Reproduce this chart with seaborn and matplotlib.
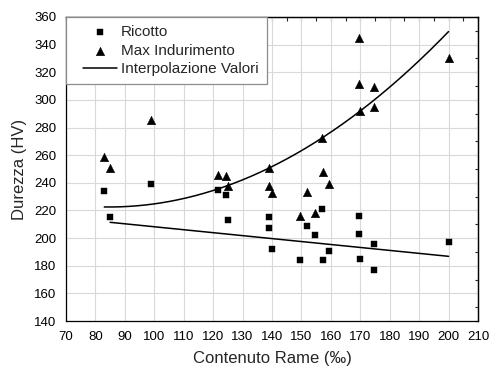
import numpy as np
import pandas as pd
import matplotlib
matplotlib.use("Agg")
import matplotlib.pyplot as plt
import seaborn as sns
from matplotlib.lines import Line2D
from matplotlib.collections import PathCollection
from matplotlib.legend_handler import HandlerLine2D, HandlerPathCollection
from matplotlib.ticker import MultipleLocator

# Copper content (per mille) and Vickers hardness
rame_ricotto = [83, 85, 99, 121.5, 124.5, 125, 139, 139, 140, 149.5, 152, 154.5,
                157, 157.5, 159.5, 169.5, 169.5, 170, 174.5, 174.5, 200]
hv_ricotto = [234, 215, 239, 235, 231, 213, 215, 207, 192, 184, 209, 202,
              221, 184, 191, 216, 203, 185, 196, 177, 197]

rame_max = [83, 85, 99, 121.5, 124.5, 125, 139, 139, 140, 149.5, 152, 154.5,
            157, 157.5, 159.5, 169.5, 169.5, 170, 174.5, 174.5, 200]
hv_max = [258.5, 250.5, 285.5, 245.5, 245, 237.5, 250.5, 237.5, 232.5, 216, 233, 218,
          272.5, 247.5, 239.5, 344.5, 311.5, 292, 309.5, 295, 330.5]

# Interpolating polynomials (highest power first) and their x ranges
coef_max = [0.009537, -1.614, 290.79]
range_max = (83, 200)
coef_ricotto = [-0.214, 229.6]
range_ricotto = (85, 200)

serie_labels = ["Ricotto", "Max Indurimento", "Interpolazione Valori"]

sns.set_style("white")
plt.rcParams["font.family"] = ["Liberation Sans", "DejaVu Sans"]

df = pd.DataFrame({
    "rame": rame_ricotto + rame_max,
    "durezza": hv_ricotto + hv_max,
    "serie": [serie_labels[0]] * len(rame_ricotto) + [serie_labels[1]] * len(rame_max),
})

fig = plt.figure(figsize=(4.95, 3.69), dpi=100)
ax = fig.add_axes([66 / 495, 1 - 321 / 369, (478 - 66) / 495, (321 - 17) / 369])

# fitted curves
x_up = np.linspace(*range_max, 300)
sns.lineplot(x=x_up, y=np.polyval(coef_max, x_up), color="black", lw=1.1,
             label=serie_labels[2], ax=ax, zorder=2)
x_lo = np.linspace(*range_ricotto, 300)
sns.lineplot(x=x_lo, y=np.polyval(coef_ricotto, x_lo), color="black", lw=1.1,
             legend=False, ax=ax, zorder=2)

# measured points
sq = df[df["serie"] == serie_labels[0]]
tr = df[df["serie"] == serie_labels[1]]
sns.scatterplot(data=sq, x="rame", y="durezza", marker="s", s=25, color="black",
                edgecolor="black", linewidth=0.3, label=serie_labels[0], ax=ax, zorder=3)
sns.scatterplot(data=tr, x="rame", y="durezza", marker="^", s=38, color="black",
                edgecolor="black", linewidth=0.3, label=serie_labels[1], ax=ax, zorder=3)

ax.set_xlim(70, 210)
ax.set_ylim(140, 360)
ax.xaxis.set_major_locator(MultipleLocator(10))
ax.xaxis.set_minor_locator(MultipleLocator(5))
ax.yaxis.set_major_locator(MultipleLocator(20))
ax.yaxis.set_minor_locator(MultipleLocator(10))
ax.grid(True, which="major", color="#d9d9d9", lw=0.8)
ax.set_axisbelow(True)

for sp in ax.spines.values():
    sp.set_color("black")
    sp.set_linewidth(0.9)

ax.tick_params(which="both", direction="out", width=0.8, colors="black",
               labelsize=9.5, top=False, right=False)
ax.tick_params(which="major", length=4.5, pad=2.5)
ax.tick_params(which="minor", length=2.8)

# mirrored inward ticks on top and right
secx = ax.secondary_xaxis("top")
secx.xaxis.set_major_locator(MultipleLocator(10))
secx.xaxis.set_minor_locator(MultipleLocator(5))
secx.tick_params(which="both", direction="in", labeltop=False, width=0.8, length=3)
secx.spines["top"].set_linewidth(0.9)
secy = ax.secondary_yaxis("right")
secy.yaxis.set_major_locator(MultipleLocator(10))
secy.yaxis.set_minor_locator(MultipleLocator(10))
secy.tick_params(which="both", direction="in", labelright=False, width=0.8, length=2.5)
secy.spines["right"].set_linewidth(0.9)

ax.set_xlabel("Contenuto Rame (‰)", fontsize=12, labelpad=6)
ax.set_ylabel("Durezza (HV)", fontsize=12, labelpad=5)

handles, labels = ax.get_legend_handles_labels()
order = [labels.index(l) for l in serie_labels]
handles = [handles[i] for i in order]
labels = [labels[i] for i in order]
if ax.get_legend() is not None:
    ax.get_legend().remove()
leg = ax.legend(handles, labels, loc="upper left", bbox_to_anchor=(0, 1),
                borderaxespad=0, frameon=True, fancybox=False, framealpha=1,
                edgecolor="#8c8c8c", fontsize=11, handlelength=2.79,
                handletextpad=0.26, borderpad=0.55, labelspacing=0.28,
                scatterpoints=1,
                handler_map={Line2D: HandlerLine2D(xpad=0.56),
                             PathCollection: HandlerPathCollection(xpad=0.56)})
leg.get_frame().set_linewidth(0.9)
leg.set_zorder(5)

fig.savefig("out.png", dpi=100)
